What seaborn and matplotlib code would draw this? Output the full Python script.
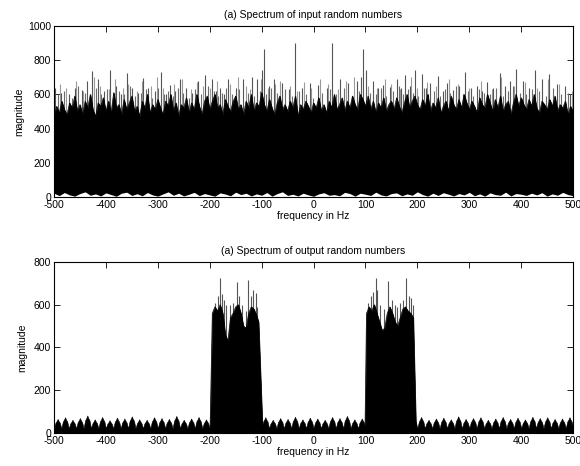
import numpy as np
import matplotlib
matplotlib.use("Agg")
import matplotlib.pyplot as plt
import seaborn as sns

# ---------------- data: (a) input spectrum ----------------
# top of the solid black body, every 5 Hz from -500 to 500
in_body = [470, 530, 490, 560, 510, 480, 550, 520, 590, 500,
           540, 480, 560, 520, 600, 510, 470, 550, 530, 580,
           500, 560, 490, 610, 520, 540, 480, 570, 510, 550,
           590, 500, 530, 470, 560, 520, 600, 490, 540, 510,
           570, 520, 480, 560, 530, 600, 500, 550, 470, 540,
           520, 580, 490, 550, 510, 600, 530, 480, 560, 590,
           510, 560, 600, 520, 540, 480, 570, 530, 500, 560,
           590, 510, 540, 480, 560, 520, 600, 500, 550, 530,
           610, 540, 500, 570, 520, 480, 550, 590, 510, 540,
           500, 560, 520, 590, 470, 540, 510, 560, 530, 490,
           550, 520, 580, 500, 540, 490, 560, 520, 600, 510,
           540, 580, 500, 560, 520, 590, 540, 510, 600, 570,
           530, 590, 510, 560, 490, 550, 520, 580, 500, 540,
           560, 510, 580, 530, 490, 550, 600, 520, 560, 590,
           540, 510, 570, 530, 600, 500, 550, 520, 580, 490,
           530, 560, 500, 590, 540, 510, 570, 520, 600, 550,
           510, 560, 530, 490, 580, 540, 520, 600, 550, 500,
           570, 520, 590, 500, 540, 560, 480, 550, 600, 530,
           580, 540, 510, 570, 530, 600, 520, 490, 560, 540,
           510, 570, 530, 590, 500, 540, 520, 560, 480, 530,
           500]
# top of the white strip along the zero line, every 10 Hz
in_floor = [22, 8, 26, 12, 5, 20, 30, 10, 18, 6,
            24, 14, 4, 22, 28, 9, 19, 7, 26, 12,
            5, 18, 30, 10, 22, 6, 16, 27, 8, 20,
            12, 5, 24, 17, 7, 28, 14, 22, 6, 18,
            10, 26, 5, 20, 30, 9, 16, 6, 22, 12,
            4, 18, 25, 10, 14, 7, 27, 20, 5, 22,
            16, 9, 28, 12, 6, 20, 24, 7, 18, 10,
            30, 14, 5, 22, 9, 25, 16, 6, 20, 12,
            27, 7, 18, 5, 24, 14, 10, 28, 6, 20,
            16, 9, 22, 12, 25, 5, 18, 10, 27, 14,
            8]
in_spike_freq = [-498, -486, -472, -460, -447, -436, -426, -415, -404, -392,
                 -380, -370, -360, -349, -338, -328, -318, -305, -293, -284,
                 -276, -266, -257, -245, -234, -222, -209, -196, -188, -180,
                 -172, -164, -150, -135, -119, -109, -99, -95, -86, -77,
                 -61, -48, -35, -22, -7, 9, 25, 35, 51, 67,
                 83, 91, 96, 101, 115, 125, 134, 147, 160, 168,
                 176, 186, 196, 208, 216, 224, 240, 249, 257, 269,
                 281, 292, 303, 314, 324, 334, 346, 359, 369, 379,
                 390, 404, 415, 427, 440, 454, 469, 485, 494]
in_spike_mag = [636, 610, 600, 640, 625, 680, 737, 690, 620, 742,
                650, 600, 723, 640, 610, 694, 640, 620, 729, 600,
                655, 620, 690, 640, 610, 680, 713, 690, 620, 640,
                600, 690, 640, 690, 700, 690, 745, 864, 650, 690,
                665, 630, 902, 640, 665, 655, 640, 902, 690, 665,
                680, 700, 864, 745, 680, 640, 655, 645, 690, 640,
                712, 650, 740, 718, 640, 665, 708, 620, 665, 625,
                650, 730, 640, 650, 620, 670, 640, 725, 650, 680,
                750, 680, 640, 745, 690, 718, 660, 650, 600]
in_mid_freq = [-493, -480, -466, -453, -441, -431, -420, -409, -398, -386,
               -375, -365, -354, -343, -333, -323, -311, -299, -288, -280,
               -271, -261, -251, -240, -228, -216, -203, -192, -184, -176,
               -168, -157, -143, -127, -114, -104, -91, -82, -70, -55,
               -42, -28, -15, -1, 16, 31, 44, 58, 74, 88,
               108, 120, 130, 140, 153, 164, 172, 181, 191, 202,
               212, 220, 232, 244, 253, 263, 275, 287, 297, 308,
               319, 329, 340, 352, 364, 374, 384, 397, 410, 421,
               434, 447, 462, 477, 490]
in_mid_mag = [600, 620, 580, 650, 610, 590, 640, 600, 630, 580,
              620, 600, 650, 590, 610, 630, 580, 640, 600, 620,
              590, 640, 610, 580, 630, 600, 650, 620, 590, 610,
              640, 600, 630, 610, 590, 620, 600, 640, 610, 630,
              590, 620, 600, 580, 610, 630, 600, 640, 590, 620,
              610, 600, 640, 590, 620, 650, 600, 630, 610, 590,
              640, 600, 620, 590, 630, 610, 650, 600, 620, 590,
              630, 610, 600, 640, 590, 620, 650, 610, 600, 630,
              620, 590, 640, 600, 610]
in_fringe_freq = [-489, -476, -457, -444, -423, -412, -395, -383, -367, -357,
                  -341, -330, -314, -302, -290, -269, -254, -237, -225, -212,
                  -199, -186, -160, -146, -131, -122, -101, -88, -74, -64,
                  -45, -31, -18, -4, 12, 28, 47, 62, 78, 105,
                  123, 137, 150, 166, 188, 199, 219, 236, 260, 278,
                  300, 322, 343, 362, 387, 407, 430, 451, 472, 497]
in_fringe_mag = [660, 640, 680, 620, 700, 650, 630, 690, 640, 660,
                 620, 680, 650, 700, 640, 660, 690, 630, 670, 650,
                 640, 680, 660, 700, 650, 630, 690, 640, 660, 680,
                 650, 620, 670, 640, 690, 660, 630, 680, 700, 650,
                 640, 690, 660, 630, 700, 640, 670, 650, 690, 660,
                 640, 680, 630, 700, 650, 670, 640, 690, 660, 620]

# ---------------- data: (b) output spectrum ----------------
# stop-band ripple humps (70, evenly spaced from -493 to 493 Hz)
hump_mag = [66, 74, 62, 70, 82, 64, 75, 60, 72, 68,
            78, 64, 62, 74, 70, 66, 80, 62, 68, 75,
            64, 64, 64, 64, 64, 64, 64, 64, 74, 62,
            70, 66, 76, 64, 72, 68, 62, 75, 70, 80,
            64, 68, 74, 62, 72, 66, 76, 64, 70, 75,
            62, 68, 72, 64, 78, 66, 70, 74, 62, 68,
            75, 66, 72, 64, 76, 70, 74, 66, 68, 74]
hump_valley = 22

band_l_freq = [-199.5, -195, -190, -185, -180, -175, -170, -165, -160, -155, -150,
               -145, -140, -135, -130, -125, -120, -115, -110, -106, -98]
band_l_top = [0, 560, 590, 570, 600, 560, 460, 430, 540, 560, 590,
              600, 560, 500, 490, 560, 590, 580, 550, 520, 0]
band_r_freq = [99, 102, 107, 112, 117, 122, 127, 132, 137, 142, 147,
               152, 157, 162, 167, 172, 177, 182, 187, 192, 197.5]
band_r_top = [0, 560, 590, 570, 600, 560, 520, 480, 490, 560, 590,
              560, 520, 500, 540, 580, 590, 570, 560, 540, 0]

out_spike_freq = [-190, -185, -180, -176, -172, -168, -161, -155, -147, -143,
                  -138, -131, -126, -121, -116, -111, -108,
                  105, 110, 115, 120, 122, 128, 135, 144, 151,
                  156, 160, 167, 173, 179, 183, 187, 191]
out_spike_mag = [610, 640, 727, 650, 621, 600, 599, 610, 705, 640,
                 600, 570, 718, 640, 668, 653, 590,
                 610, 640, 660, 723, 668, 600, 580, 711, 622,
                 600, 590, 610, 622, 727, 640, 630, 600]

titles = ["(a) Spectrum of input random numbers",
          "(a) Spectrum of output random numbers"]
xticks = [-500, -400, -300, -200, -100, 0, 100, 200, 300, 400, 500]
yticks_top = [0, 200, 400, 600, 800, 1000]
yticks_bot = [0, 200, 400, 600, 800]

# ---------------- style ----------------
sns.set_theme(style="ticks")
plt.rcParams["font.family"] = ["Liberation Sans", "DejaVu Sans"]
plt.rcParams["axes.linewidth"] = 0.8

fig = plt.figure(figsize=(5.8, 4.66), dpi=100)
ax1 = fig.add_axes([0.0931, 0.5773, 0.895, 0.3670])
ax2 = fig.add_axes([0.0931, 0.0708, 0.895, 0.3670])

# ---- top panel ----
f_in = np.linspace(-500, 500, len(in_body))
f_floor = np.linspace(-500, 500, len(in_floor))
ax1.vlines(in_fringe_freq, 0, in_fringe_mag, color="#9a9a9a", lw=0.8, zorder=1)
ax1.vlines(in_mid_freq, 0, in_mid_mag, color="#6a6a6a", lw=0.8, zorder=1)
ax1.vlines(in_spike_freq, 0, in_spike_mag, color="#555555", lw=0.8, zorder=1)
ax1.fill_between(f_in, 0, in_body, color="black", lw=0.5, edgecolor="black", zorder=2)
sns.lineplot(x=f_in, y=in_body, ax=ax1, color="black", lw=0.5, zorder=2)
ax1.fill_between(f_floor, 0, in_floor, color="white", lw=0, zorder=3)

# ---- bottom panel ----
centers = np.linspace(-493, 493, len(hump_mag))
half = (centers[1] - centers[0]) / 2
hx, hy = [], []
for c, h in zip(centers, hump_mag):
    hx += [c - half, c - half * 0.6, c - half * 0.25, c, c + half * 0.25, c + half * 0.6]
    hy += [hump_valley, h * 0.72, h * 0.86, h, h * 0.86, h * 0.72]
hx.append(centers[-1] + half)
hy.append(hump_valley)
ax2.fill_between(hx, 0, hy, color="black", lw=0.4, edgecolor="black", zorder=2)
ax2.vlines(out_spike_freq, 0, out_spike_mag, color="#555555", lw=0.8, zorder=1)
ax2.fill_between(band_l_freq, 0, band_l_top, color="black", lw=0.5, edgecolor="black", zorder=3)
ax2.fill_between(band_r_freq, 0, band_r_top, color="black", lw=0.5, edgecolor="black", zorder=3)
sns.lineplot(x=band_l_freq, y=band_l_top, ax=ax2, color="black", lw=0.5, zorder=3)
sns.lineplot(x=band_r_freq, y=band_r_top, ax=ax2, color="black", lw=0.5, zorder=3)

for ax, title, yt, lx in [(ax1, titles[0], yticks_top, -0.058),
                          (ax2, titles[1], yticks_bot, -0.052)]:
    ax.set_xlim(-500, 500)
    ax.set_ylim(yt[0], yt[-1])
    ax.set_xticks(xticks)
    ax.set_yticks(yt)
    ax.set_xticklabels([str(v) for v in xticks])
    ax.set_yticklabels([str(v) for v in yt])
    ax.tick_params(direction="in", length=4, width=0.6, pad=2, top=True,
                   right=True, labelsize=7.5, colors="black")
    ax.set_title(title, fontsize=7.5, pad=6, color="black")
    ax.set_xlabel("frequency in Hz", fontsize=7.5, labelpad=1, color="black")
    ax.set_ylabel("magnitude", fontsize=7.5, color="black")
    ax.yaxis.set_label_coords(lx, 0.5)
    for s in ax.spines.values():
        s.set_visible(True)
        s.set_color("black")
        s.set_linewidth(0.8)
        s.set_zorder(5)
    ax.set_facecolor("white")

fig.savefig("out.png", dpi=100, facecolor="white")
